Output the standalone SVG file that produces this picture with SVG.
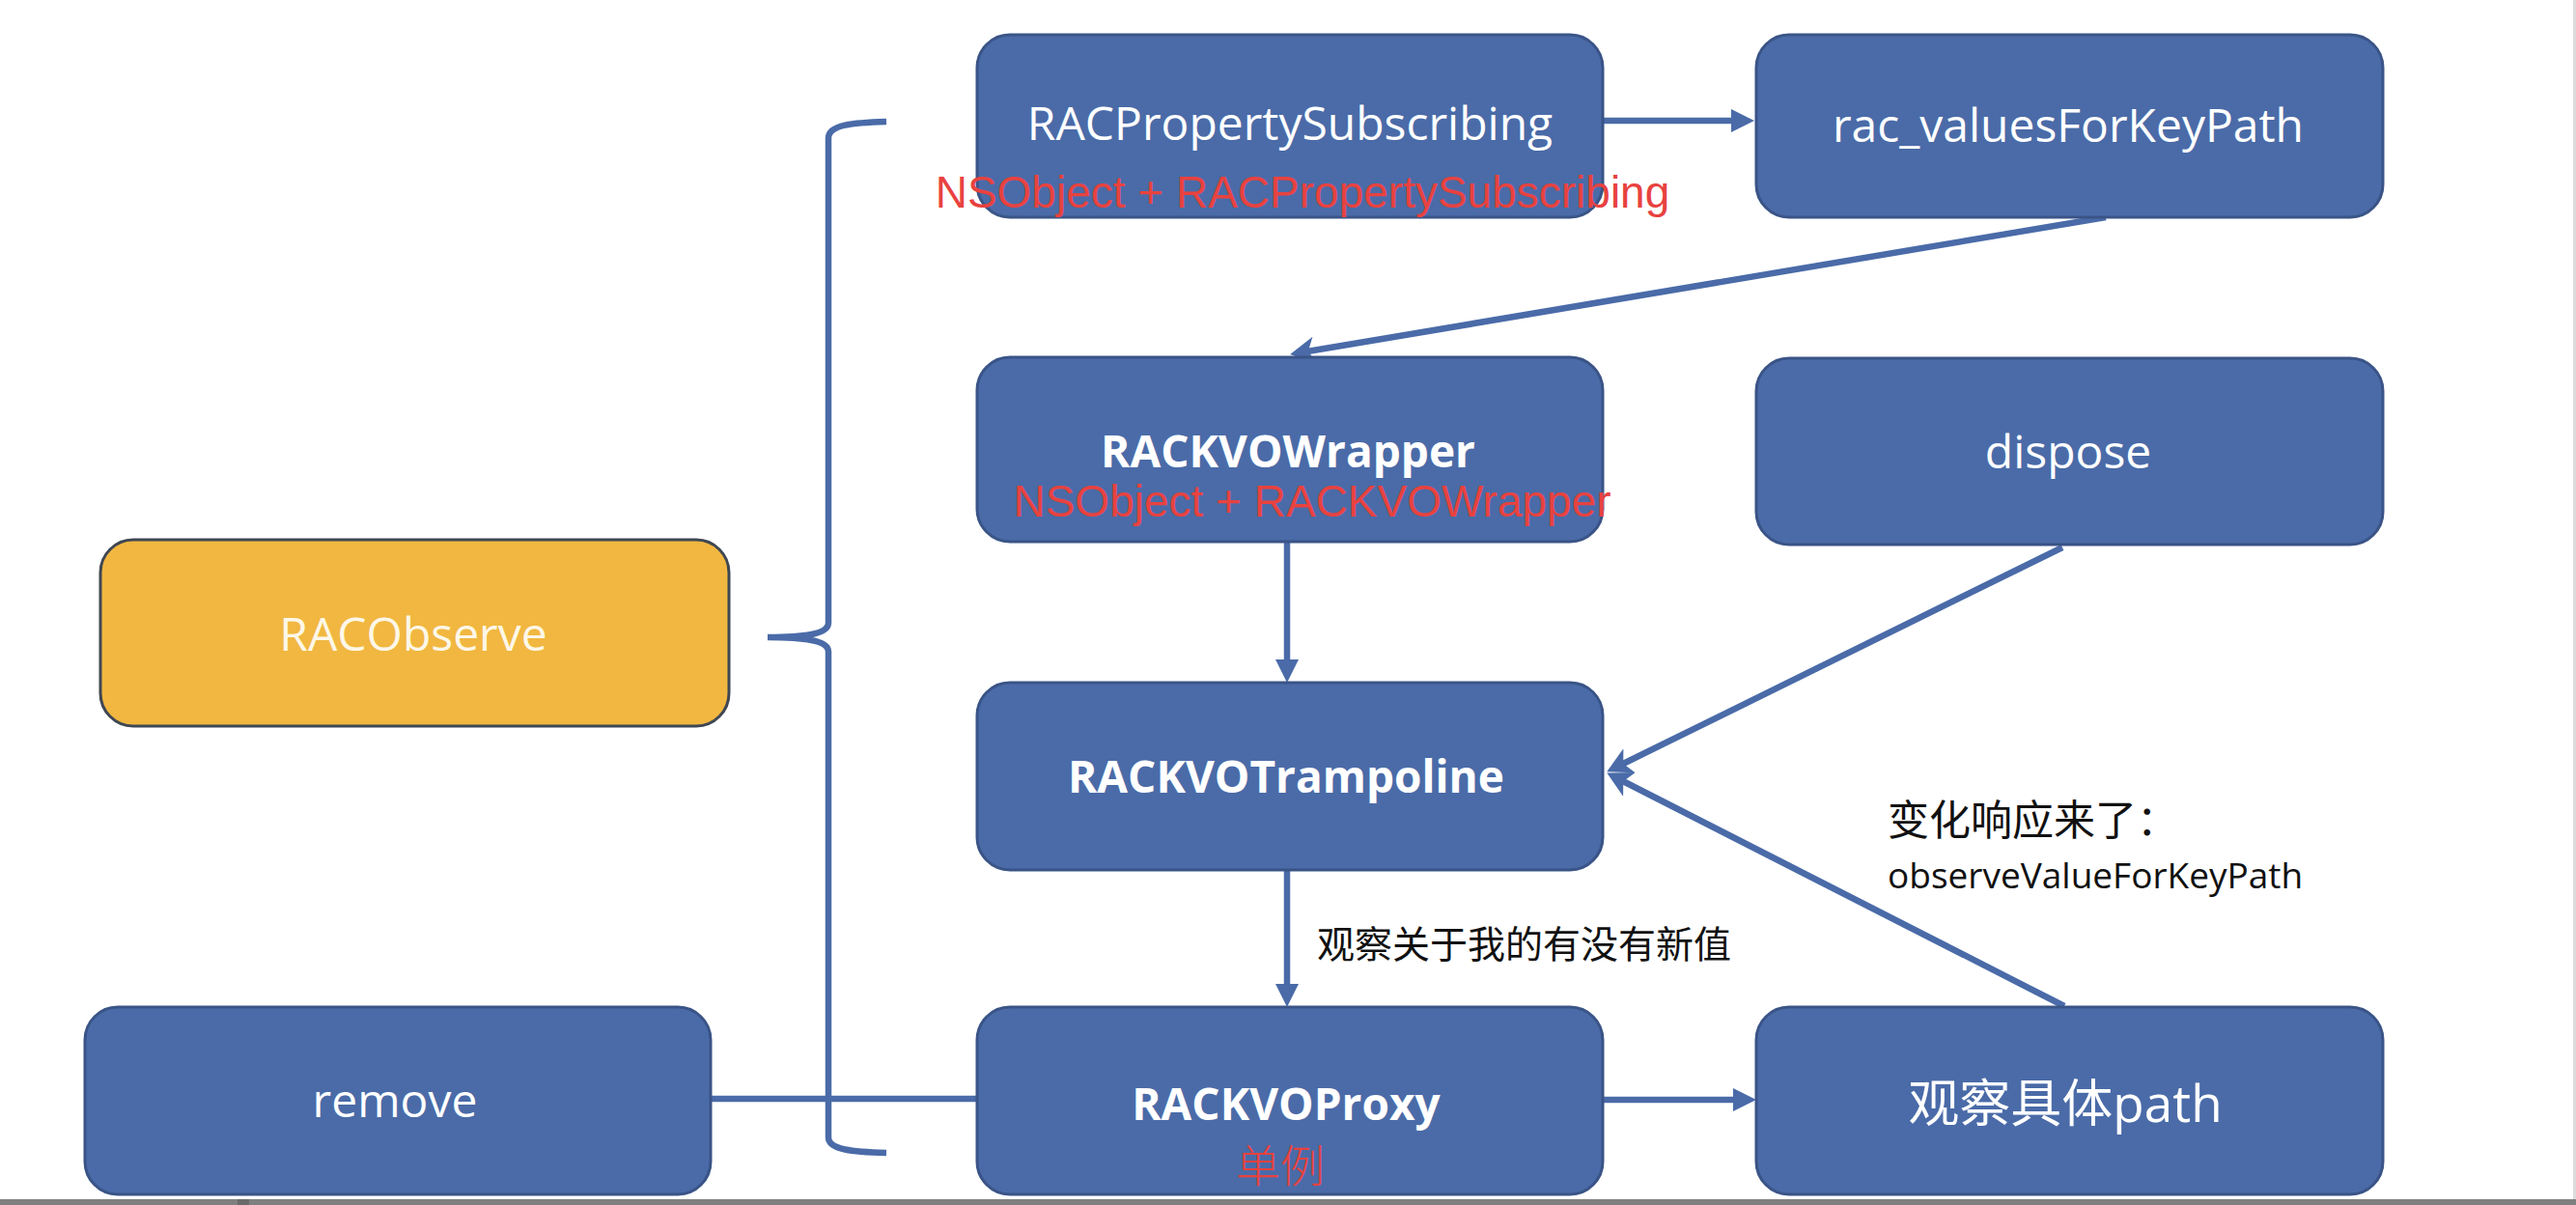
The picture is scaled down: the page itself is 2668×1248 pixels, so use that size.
<svg xmlns="http://www.w3.org/2000/svg" width="2668" height="1248" viewBox="0 0 2668 1248">
<style>
.box{fill:#4a6ba8;stroke:#3a5487;stroke-width:3}
.obs{fill:#f1b740;stroke:#3f4753;stroke-width:3}
.lbl{font-family:"Open Sans","Noto Sans CJK SC",sans-serif;font-size:48px;fill:#ffffff;text-anchor:middle}
.bold{font-weight:bold;font-size:46px}
.red{font-family:"Liberation Sans","Noto Sans CJK SC",sans-serif;font-size:46px;fill:#e8423f}
.note{font-family:"Noto Sans CJK SC",sans-serif;fill:#111111}
.con{fill:none;stroke:#4a6ba8;stroke-width:6.5}
</style>
<defs>
<marker id="tri" markerUnits="userSpaceOnUse" markerWidth="30" markerHeight="30" refX="12" refY="12" orient="auto">
<path d="M0,0 L24,12 L0,24 z" fill="#4a6ba8"/>
</marker>
<marker id="barb" markerUnits="userSpaceOnUse" markerWidth="34" markerHeight="34" refX="14" refY="14" orient="auto">
<path d="M0,0 L26,14 L0,28 L7,14 z" fill="#4a6ba8"/>
</marker>
</defs>
<rect x="0" y="0" width="2668" height="1248" fill="#ffffff"/>

<g id="connectors">
<path class="con" d="M1660,125 L1805,125" marker-end="url(#tri)"/>
<path class="con" d="M2181,225 L1348,365" marker-end="url(#barb)"/>
<path class="con" d="M1333,561 L1333,695" marker-end="url(#tri)"/>
<path class="con" d="M2136,567 L1675,794" marker-end="url(#barb)"/>
<path class="con" d="M2138,1042 L1675,806" marker-end="url(#barb)"/>
<path class="con" d="M1333,901 L1333,1031" marker-end="url(#tri)"/>
<path class="con" d="M1660,1139 L1807,1139" marker-end="url(#tri)"/>
<path class="con" d="M736,1138 L1012,1138"/>
<path class="con" stroke-width="7" d="M918,126 C884,127 858,129 858,143 L858,645 C858,655 840,660 795,660 C840,660 858,665 858,675 L858,1178 C858,1191 884,1193 918,1194"/>
</g>

<g id="n-racpropertysubscribing">
<rect class="box" x="1012" y="36" width="648" height="189" rx="34"/>
<text class="lbl" x="1336" y="145">RACPropertySubscribing</text>
</g>
<g id="n-rac-values">
<rect class="box" x="1819" y="36" width="649" height="189" rx="34"/>
<text class="lbl" x="2142" y="147">rac_valuesForKeyPath</text>
</g>
<g id="n-rackvowrapper">
<rect class="box" x="1012" y="370" width="648" height="191" rx="34"/>
<text class="lbl bold" x="1334" y="484">RACKVOWrapper</text>
</g>
<g id="n-dispose">
<rect class="box" x="1819" y="371" width="649" height="193" rx="34"/>
<text class="lbl" x="2142" y="485">dispose</text>
</g>
<g id="n-racobserve">
<rect class="obs" x="104" y="559" width="651" height="193" rx="34"/>
<text class="lbl" x="428" y="674" style="fill:#fdf7e8">RACObserve</text>
</g>
<g id="n-rackvotrampoline">
<rect class="box" x="1012" y="707" width="648" height="194" rx="34"/>
<text class="lbl bold" x="1332" y="821">RACKVOTrampoline</text>
</g>
<g id="n-remove">
<rect class="box" x="88" y="1043" width="648" height="194" rx="34"/>
<text class="lbl" x="409" y="1157">remove</text>
</g>
<g id="n-rackvoproxy">
<rect class="box" x="1012" y="1043" width="648" height="194" rx="34"/>
<text class="lbl bold" x="1332" y="1160">RACKVOProxy</text>
</g>
<g id="n-path">
<rect class="box" x="1819" y="1043" width="649" height="194" rx="34"/>
<text class="lbl" x="2139" y="1162" style="font-size:53px">观察具体path</text>
</g>

<g id="annotations">
<text class="red" x="1349" y="215" text-anchor="middle">NSObject + RACPropertySubscribing</text>
<text class="red" x="1359" y="535" text-anchor="middle">NSObject + RACKVOWrapper</text>
<text class="red" x="1326" y="1224" text-anchor="middle" style="font-family:'Noto Sans CJK SC',sans-serif;font-weight:300">单例</text>
<text class="note" x="1364" y="992" font-size="39">观察关于我的有没有新值</text>
<text class="note" x="1955" y="865" font-size="43">变化响应来了：</text>
<text class="note" x="1955" y="920" font-size="37" style="font-family:'Open Sans',sans-serif">observeValueForKeyPath</text>
</g>

<rect x="0" y="1242" width="2668" height="6" fill="#7f7f7f"/>
<rect x="246" y="1242" width="12" height="6" fill="#6a6a6a"/>
<rect x="2665" y="0" width="3" height="1242" fill="#dcdcdc"/>
</svg>
